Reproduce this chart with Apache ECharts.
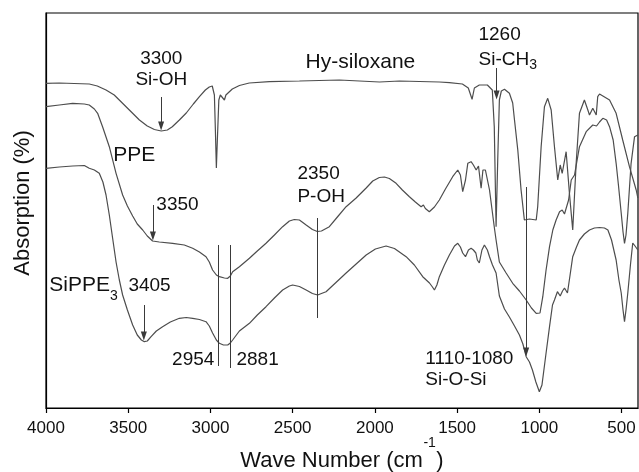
<!DOCTYPE html>
<html><head><meta charset="utf-8">
<script src="https://cdn.jsdelivr.net/npm/echarts@6/dist/echarts.min.js"></script>
<style>html,body{margin:0;padding:0;background:#fff}#c{width:639px;height:472px}</style>
</head><body><div id="c"></div>
<script>
// x tick labels (wavenumber, cm^-1)
const xTicks = [500, 1000, 1500, 2000, 2500, 3000, 3500, 4000];

// [wavenumber, absorption (arbitrary units, offset traces)]
const hySiloxane = [[4000,324.7],[3919,325],[3828,324.5],[3737,324],[3688,322],[3635,318],[3585,313],[3536,305],[3487,297],[3432,288],[3384,282],[3341,278.5],[3299,277],[3262,278],[3232,281.3],[3189,288],[3147,295],[3104,304],[3067,311.3],[3031,318],[3007,321],[2989,322],[2976,313],[2970,278],[2964,240],[2958,268],[2949,308],[2940,313],[2928,313],[2915,308],[2906,313],[2897,315],[2867,319],[2824,322.5],[2764,325],[2642,326.3],[2459,327],[2216,328],[1972,326],[1851,327],[1729,326.5],[1608,326],[1547,325.3],[1468,324],[1432,320],[1409,308.7],[1395,320],[1365,323],[1316,323],[1286,318],[1274,281.3],[1263,181.3],[1253,248],[1243,308],[1231,317],[1212,318.7],[1182,314.7],[1162,305],[1151,288],[1131,258],[1111,218],[1091,188],[1060,189],[1019,188],[1010,201.3],[989,261.3],[969,301.3],[949,309.7],[928,298],[908,261.3],[888,228],[873,243],[861,234.7],[837,256.3],[817,214.7],[797,178],[776,244.7],[756,294.7],[726,308],[705,298],[695,293],[675,299.7],[654,293],[645,311.3],[634,314],[573,308],[533,294.7],[493,268],[452,241.3],[411,218],[401,210]];

const ppe = [[4000,301.3],[3919,303],[3838,304.7],[3767,304],[3737,303],[3706,299],[3686,294.7],[3656,281.3],[3615,261.3],[3574,234.7],[3534,213],[3505,202],[3473,192],[3445,184],[3412,178],[3384,172],[3352,167],[3311,166],[3230,164.7],[3159,163],[3108,159.7],[3067,156],[3027,151.3],[3007,146],[2987,138],[2964,133],[2946,131.3],[2915,130],[2895,129.7],[2879,132],[2865,136.3],[2824,141.3],[2763,149.7],[2715,157],[2662,164.7],[2611,173],[2561,181.3],[2520,187],[2490,188.5],[2459,188],[2418,183],[2380,178.5],[2350,176.5],[2325,177],[2277,181.3],[2228,191],[2175,201.3],[2114,210],[2053,220],[2013,227],[1973,230.5],[1942,231],[1912,229.5],[1871,224.7],[1833,218],[1790,211.3],[1754,206],[1719,201.3],[1705,203],[1693,199.5],[1669,196.3],[1638,201],[1608,208],[1571,219],[1527,231.3],[1496,238],[1480,233],[1466,216.3],[1449,228],[1435,244.7],[1415,246.3],[1401,243],[1384,238],[1370,242],[1354,219.7],[1343,238],[1328,238],[1303,218],[1274,181],[1263,168],[1243,146],[1202,135],[1162,124.7],[1121,117],[1080,108],[1048,100],[1019,94.7],[1010,93],[996,95],[979,111.3],[959,138],[938,161.3],[918,178],[898,188],[877,196.3],[861,198],[847,194],[837,195],[822,208],[806,228],[786,233],[756,261.3],[715,276.3],[675,283],[652,282],[634,286],[614,289.7],[591,288],[573,281.3],[551,268],[533,244.7],[519,223],[502,194.7],[491,176],[482,164.7],[473,173],[462,194.7],[442,244.7],[421,271.3],[401,273]];

const sippe3 = [[4000,239.7],[3919,241],[3838,242],[3767,242.5],[3737,239.7],[3706,238],[3676,234.7],[3654,226],[3635,213],[3615,193],[3595,170],[3574,146],[3554,128],[3534,113],[3505,98],[3473,83],[3445,73],[3420,68],[3402,66.3],[3384,67],[3361,71.3],[3329,77],[3291,81.3],[3244,86],[3189,89.7],[3147,90.5],[3108,89.7],[3067,88.5],[3027,86.3],[3007,82],[2987,75],[2964,68],[2946,64.7],[2921,63],[2895,63],[2879,65],[2865,68],[2824,77],[2763,84.7],[2715,93],[2662,101.3],[2611,110],[2561,118],[2520,122],[2500,123],[2459,121.5],[2418,118],[2380,114.5],[2348,113],[2325,114.5],[2297,116.3],[2240,125],[2175,135],[2114,144],[2053,153],[1997,159],[1932,162],[1881,159.5],[1810,151.3],[1760,143],[1709,131.3],[1668,125],[1650,121],[1638,118],[1623,123],[1608,131.3],[1577,143],[1547,153],[1516,162],[1496,164.7],[1480,161],[1466,155],[1449,151.3],[1431,158],[1415,159.7],[1401,158],[1386,155],[1377,148],[1365,145],[1349,158],[1334,163],[1316,158],[1303,151.3],[1285,143],[1263,135],[1243,112],[1212,99],[1182,91],[1151,82],[1121,73],[1100,64],[1080,51.3],[1060,46],[1042,38],[1021,26],[1000,16.3],[984,23],[959,55],[938,81.3],[920,103],[908,108],[890,116.3],[873,112],[859,117],[847,120],[829,115],[813,133],[797,151.3],[774,161],[756,168],[726,174],[695,178],[665,180],[634,180.5],[604,180],[583,178],[561,168],[533,148],[516,128],[502,115],[491,98],[482,86.3],[473,98],[462,115],[446,143],[432,165],[418,162],[401,158]];

// band marker lines: wavenumber, start / end level, arrow head at end
const guideLines = [
  {x:3300, from:311, to:282, arrow:true},
  {x:1260, from:340, to:313, arrow:true},
  {x:3350, from:203, to:172, arrow:true},
  {x:2350, from:190, to:90,  arrow:false},
  {x:3405, from:103, to:72,  arrow:true},
  {x:2954, from:163, to:42,  arrow:false},
  {x:2881, from:163, to:40,  arrow:false},
  {x:1080, from:221, to:56,  arrow:true}
];

// text annotations anchored in data space
const notes = [
  {t:'3300', x:3299, y:349, align:'center'},
  {t:'Si-OH', x:3299, y:328, align:'center'},
  {t:'Hy-siloxane', x:2088, y:345.5, align:'center', size:21},
  {t:'1260', x:1370, y:373, align:'left'},
  {t:'Si-CH{s|3}', x:1370, y:348, align:'left', lh:25},
  {t:'PPE', x:3463, y:253, align:'center', size:21},
  {t:'3350', x:3329, y:203, align:'left'},
  {t:'2350', x:2471, y:234.5, align:'left'},
  {t:'P-OH', x:2471, y:211.5, align:'left'},
  {t:'SiPPE{s|3}', x:3980, y:123, align:'left', size:21, lh:36},
  {t:'3405', x:3499, y:122.5, align:'left'},
  {t:'2954', x:2976, y:48.5, align:'right'},
  {t:'2881', x:2842, y:48.5, align:'left'},
  {t:'1110-1080', x:1693, y:49.5, align:'left'},
  {t:'Si-O-Si', x:1693, y:28, align:'left'}
];

const FF = '"Liberation Sans", Arial, Helvetica, sans-serif';
const curveColor = '#4d4d4d';

function lineSeries(name, data) {
  return {
    name, type:'line', data, showSymbol:false, symbol:'none', smooth:false,
    lineStyle:{color:curveColor, width:1.2}, silent:true, animation:false, z:3
  };
}

const markData = guideLines.map(g => [
  {coord:[g.x, g.from], symbol:'none'},
  {coord:[g.x, g.to], symbol: g.arrow ? 'triangle' : 'none', symbolSize:[6, 9]}
]);

const option = {
  animation:false,
  backgroundColor:'#fff',
  grid:{left:46, right:1, top:13, bottom:64, show:true, borderColor:'#000', borderWidth:1.2,
        backgroundColor:'transparent', containLabel:false, outerBoundsMode:'none'},
  xAxis:{
    type:'value', min:400, max:4000, inverse:true,
    axisLine:{show:true, lineStyle:{color:'#000', width:1.2}},
    axisTick:{show:true, customValues:xTicks, length:5, inside:false, lineStyle:{color:'#000', width:1.2}},
    axisLabel:{show:true, customValues:xTicks, fontSize:17, color:'#111', margin:12, fontFamily:FF,
               formatter:v => String(v)},
    splitLine:{show:false}
  },
  yAxis:{
    type:'value', min:0, max:395,
    axisLine:{show:true, lineStyle:{color:'#000', width:1.2}},
    axisTick:{show:false}, axisLabel:{show:false}, splitLine:{show:false}
  },
  series:[
    lineSeries('Hy-siloxane', hySiloxane),
    lineSeries('PPE', ppe),
    lineSeries('SiPPE3', sippe3),
    {
      name:'bands', type:'line', data:[], silent:true, animation:false, z:4,
      markLine:{
        silent:true, animation:false, symbol:['none','none'],
        label:{show:false},
        lineStyle:{color:'#3a3a3a', width:1, type:'solid'},
        itemStyle:{color:'#111'},
        emphasis:{disabled:true},
        data:markData
      }
    }
  ]
};

const chart = echarts.init(document.getElementById('c'), null, {renderer:'canvas'});
chart.setOption(option);

const graphics = notes.map(n => {
  const p = chart.convertToPixel({gridIndex:0}, [n.x, n.y]);
  const size = n.size || 19;
  return {
    type:'text', x:p[0], y:p[1], silent:true, z:100,
    style:{
      text:n.t, fontSize:size, fontFamily:FF, fill:'#111',
      align:n.align, verticalAlign:'middle',
      lineHeight: n.lh || Math.round(size*1.2),
      rich:{s:{fontSize:14, lineHeight:14, verticalAlign:'bottom', fontFamily:FF, fill:'#111', color:'#111'}}
    }
  };
});

// x-axis title built from measured pieces so the superscript sits tight
const gridRect = chart.getModel().getComponent('grid', 0).coordinateSystem.getRect();
const mctx = document.createElement('canvas').getContext('2d');
function textW(t, size) { mctx.font = size + 'px ' + FF; return mctx.measureText(t).width; }
const tA = 'Wave Number (cm', tB = '-1', tC = ')';
const wA = textW(tA, 22), wB = textW(tB, 14), wC = textW(tC, 22);
let x0 = gridRect.x + gridRect.width / 2 - (wA + wB + wC + 1) / 2;
const titleY = 461;
graphics.push({type:'text', x:x0, y:titleY, silent:true, z:100,
  style:{text:tA, fontSize:22, fontFamily:FF, fill:'#111', align:'left', verticalAlign:'middle'}});
graphics.push({type:'text', x:x0 + wA + 0.5, y:titleY - 18, silent:true, z:100,
  style:{text:tB, fontSize:14, fontFamily:FF, fill:'#111', align:'left', verticalAlign:'middle'}});
graphics.push({type:'text', x:x0 + wA + wB + 1, y:titleY, silent:true, z:100,
  style:{text:tC, fontSize:22, fontFamily:FF, fill:'#111', align:'left', verticalAlign:'middle'}});

graphics.push({
  type:'text', x:23, y:203, rotation:Math.PI/2, silent:true, z:100,
  style:{text:'Absorption (%)', fontSize:22, fontFamily:FF, fill:'#111', align:'center', verticalAlign:'middle'}
});
chart.setOption({graphic:graphics});
</script>
</body></html>
